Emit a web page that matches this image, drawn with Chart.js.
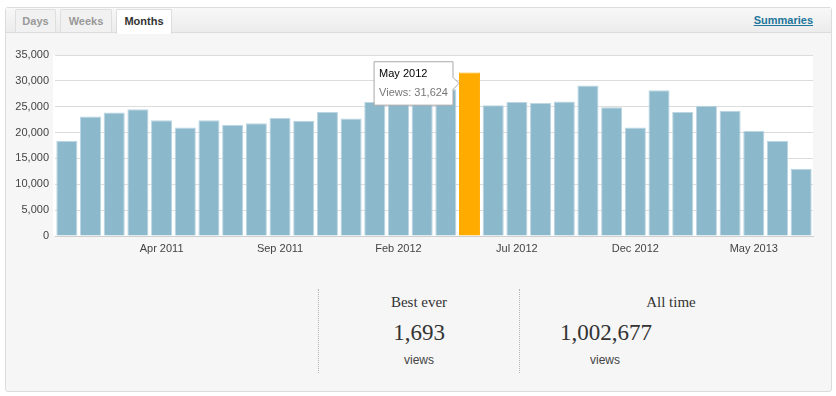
<!DOCTYPE html>
<html>
<head>
<meta charset="utf-8">
<script src="https://cdn.jsdelivr.net/npm/chart.js@4"></script>
<style>
    body { margin: 0; background: #fff; font-family: "Liberation Sans", Arial, sans-serif; width: 836px; height: 396px; overflow: hidden; position: relative; }
    .panel { position: absolute; left: 5px; top: 7px; width: 825px; height: 383px; border: 1px solid #dcdcdc; border-radius: 3px; background: #f6f6f6; }
    .header { position: absolute; left: 0; top: 0; right: 0; height: 24px; background: linear-gradient(#f8f8f8, #ececec); border-bottom: 1px solid #dcdcdc; }
    .tab { position: absolute; top: 1px; height: 23px; line-height: 23px; text-align: center; font-size: 11px; font-weight: bold; color: #999; background: #f1f1f1; border: 1px solid #dedede; border-bottom: none; border-radius: 2px 2px 0 0; box-sizing: border-box; }
    .tab.active { background: #fff; color: #333; height: 25px; }
    .summaries { position: absolute; right: 18px; top: 6px; font-size: 11px; font-weight: bold; color: #21759b; text-decoration: underline; }
    #chartWrap { position: absolute; left: 0; top: 40px; width: 836px; height: 220px; }
    .sep { position: absolute; top: 289px; height: 84px; border-left: 1px dotted #b5b5b5; }
    .stat { position: absolute; width: 200px; text-align: center; color: #333; }
    .lbl { font-family: "Liberation Serif", "Times New Roman", serif; font-size: 15px; line-height: 18px; }
    .num { font-family: "Liberation Serif", "Times New Roman", serif; font-size: 23px; line-height: 26px; }
    .views { font-size: 12px; line-height: 16px; color: #444; }
</style>
</head>
<body>
<div class="panel">
    <div class="header">
        <div class="tab" style="left:9px;width:41px;">Days</div>
        <div class="tab" style="left:54px;width:52px;">Weeks</div>
        <div class="tab active" style="left:110px;width:56px;">Months</div>
        <div class="summaries">Summaries</div>
    </div>
</div>
<div id="chartWrap"><canvas id="viewsChart" width="836" height="220"></canvas></div>

<div class="sep" style="left:318px;"></div>
<div class="sep" style="left:519px;"></div>
<div class="stat lbl" style="left:319px;top:293px;">Best ever</div>
<div class="stat num" style="left:319px;top:320px;">1,693</div>
<div class="stat views" style="left:319px;top:352px;">views</div>
<div class="stat lbl" style="left:571px;top:293px;">All time</div>
<div class="stat num" style="left:506px;top:320px;">1,002,677</div>
<div class="stat views" style="left:505px;top:352px;">views</div>

<script>
const MONTHS = [
    'Dec 2010', 'Jan 2011', 'Feb 2011', 'Mar 2011', 'Apr 2011', 'May 2011', 'Jun 2011', 'Jul 2011',
    'Aug 2011', 'Sep 2011', 'Oct 2011', 'Nov 2011', 'Dec 2011', 'Jan 2012', 'Feb 2012', 'Mar 2012',
    'Apr 2012', 'May 2012', 'Jun 2012', 'Jul 2012', 'Aug 2012', 'Sep 2012', 'Oct 2012', 'Nov 2012',
    'Dec 2012', 'Jan 2013', 'Feb 2013', 'Mar 2013', 'Apr 2013', 'May 2013', 'Jun 2013', 'Jul 2013'
];
const VIEWS = [
    18400, 23100, 23900, 24500, 22400, 21000, 22400, 21500,
    21800, 22800, 22300, 24000, 22700, 25900, 27100, 27600,
    28400, 31624, 25300, 25900, 25700, 26000, 29100, 24900,
    21000, 28200, 24000, 25200, 24200, 20300, 18400, 13000
];
const SHOWN_TICKS = ['Apr 2011', 'Sep 2011', 'Feb 2012', 'Jul 2012', 'Dec 2012', 'May 2013'];
const Y_MAX = 35000;
const Y_STEP = 5000;
const HIGHLIGHT = 'May 2012';

const BAR_COLOR = '#8cb8cb';
const BAR_EDGE = '#bcd6e2';
const HIGHLIGHT_COLOR = '#ffab00';

document.addEventListener('DOMContentLoaded', () => {
    const hiIndex = MONTHS.indexOf(HIGHLIGHT);

    Chart.Tooltip.positioners.leftOfBar = function (items) {
        if (!items.length) return false;
        const el = items[0].element;
        return { x: el.x - el.width / 2, y: el.y + 11 };
    };

    // white plot area, a little wider on the left like the original widget
    const plotBackground = {
        id: 'plotBackground',
        beforeDraw(chart) {
            const { ctx, chartArea } = chart;
            ctx.save();
            ctx.fillStyle = '#fff';
            ctx.fillRect(chartArea.left - 2, chartArea.top, chartArea.right - chartArea.left + 2, chartArea.bottom - chartArea.top);
            ctx.restore();
        }
    };

    const ctx = document.getElementById('viewsChart').getContext('2d');
    const chart = new Chart(ctx, {
        type: 'bar',
        data: {
            labels: MONTHS,
            datasets: [{
                label: 'Views',
                data: VIEWS,
                backgroundColor: MONTHS.map(m => m === HIGHLIGHT ? HIGHLIGHT_COLOR : BAR_COLOR),
                borderColor: MONTHS.map(m => m === HIGHLIGHT ? HIGHLIGHT_COLOR : BAR_EDGE),
                borderWidth: { top: 1, left: 1, right: 1, bottom: 0 },
                borderSkipped: 'bottom',
                barPercentage: 0.89,
                categoryPercentage: 1
            }]
        },
        options: {
            responsive: false,
            animation: false,
            events: [],
            layout: { padding: { left: 0, right: 23, top: 15, bottom: 0 } },
            plugins: {
                legend: { display: false },
                tooltip: {
                    enabled: true,
                    position: 'leftOfBar',
                    xAlign: 'right',
                    yAlign: 'center',
                    backgroundColor: '#fff',
                    borderColor: '#a8a8a8',
                    borderWidth: 1,
                    cornerRadius: 0,
                    caretSize: 6,
                    caretPadding: 0,
                    displayColors: false,
                    padding: { x: 5, y: 6 },
                    titleColor: '#000',
                    titleFont: { family: '"Liberation Sans", Arial', size: 11, weight: 'normal' },
                    titleMarginBottom: 5,
                    bodyColor: '#777',
                    bodyFont: { family: '"Liberation Sans", Arial', size: 11 },
                    callbacks: {
                        label: c => 'Views: ' + c.parsed.y.toLocaleString('en-US')
                    }
                }
            },
            scales: {
                x: {
                    grid: { display: false, drawTicks: false },
                    border: { display: true, color: '#cfcfcf' },
                    ticks: {
                        autoSkip: false,
                        maxRotation: 0,
                        padding: 6,
                        color: '#444',
                        font: { family: '"Liberation Sans", Arial', size: 11 },
                        callback: function (v) {
                            const lab = this.getLabelForValue(v);
                            return SHOWN_TICKS.includes(lab) ? lab : '';
                        }
                    },
                    afterFit: s => { s.height = 24; }
                },
                y: {
                    min: 0,
                    max: Y_MAX,
                    ticks: {
                        stepSize: Y_STEP,
                        padding: 6,
                        color: '#444',
                        font: { family: '"Liberation Sans", Arial', size: 11 },
                        callback: v => v.toLocaleString('en-US')
                    },
                    grid: { color: '#dcdcdc', drawTicks: false },
                    border: { display: false },
                    afterFit: s => { s.width = 55; }
                }
            }
        },
        plugins: [plotBackground]
    });

    chart.tooltip.setActiveElements([{ datasetIndex: 0, index: hiIndex }], { x: 0, y: 0 });
    chart.update();
});
</script>
</body>
</html>
